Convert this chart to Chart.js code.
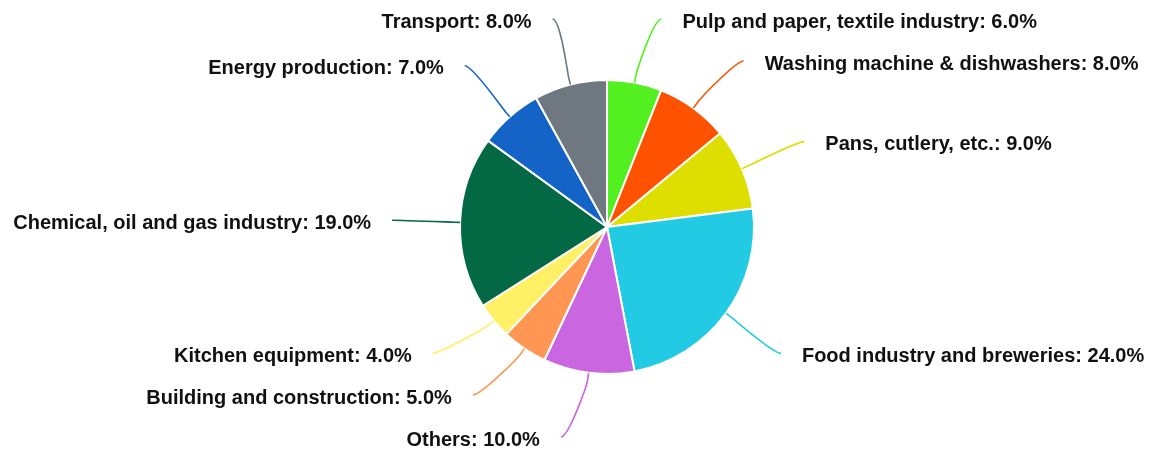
<!DOCTYPE html>
<html>
<head>
<meta charset="utf-8">
<script src="https://cdn.jsdelivr.net/npm/chart.js@4/dist/chart.umd.min.js"></script>
<style>
  html, body { margin: 0; padding: 0; background: #ffffff; }
  #wrap { width: 1153px; height: 452px; }
</style>
</head>
<body>
<div id="wrap"><canvas id="pie" width="1153" height="452"></canvas></div>
<script>
// Sectors in clockwise order from 12 o'clock
const categories = [
  'Pulp and paper, textile industry',
  'Washing machine & dishwashers',
  'Pans, cutlery, etc.',
  'Food industry and breweries',
  'Others',
  'Building and construction',
  'Kitchen equipment',
  'Chemical, oil and gas industry',
  'Energy production',
  'Transport'
];
const shares = [6, 8, 9, 24, 10, 5, 4, 19, 7, 8];
const sliceColors = [
  '#52f020', '#ff5200', '#dede00', '#22cbe3', '#c966e0',
  '#ff9652', '#fff066', '#036945', '#1464c8', '#6f7881'
];

// Outside labels with curved connectors, spread vertically so they never overlap
const outsideLabels = {
  id: 'outsideLabels',
  afterDatasetsDraw(chart) {
    const ctx = chart.ctx;
    const meta = chart.getDatasetMeta(0);
    const area = chart.chartArea;
    const labelGap = 68, minSpacing = 42;
    const topLimit = area.top - 60, bottomLimit = area.bottom + 62;
    const items = meta.data.map((arc, i) => {
      const p = arc.getProps(['x', 'y', 'startAngle', 'endAngle', 'outerRadius'], true);
      const mid = (p.startAngle + p.endAngle) / 2;
      const R = p.outerRadius + labelGap;
      return {
        i, cx: p.x, cy: p.y, r: p.outerRadius, mid, R,
        left: Math.cos(mid) < 0,
        y: p.y + Math.sin(mid) * R
      };
    });
    [true, false].forEach(side => {
      const group = items.filter(it => it.left === side).sort((a, b) => a.y - b.y);
      for (let k = 0; k < group.length; k++) {
        const prev = k > 0 ? group[k - 1].y + minSpacing : topLimit;
        group[k].y = Math.max(group[k].y, prev, topLimit);
      }
      for (let k = group.length - 1; k >= 0; k--) {
        const next = k < group.length - 1 ? group[k + 1].y - minSpacing : bottomLimit;
        group[k].y = Math.min(group[k].y, next, bottomLimit);
      }
    });
    ctx.save();
    items.forEach(it => {
      const dir = it.left ? -1 : 1;
      const dy = it.y - it.cy;
      const lx = it.cx + dir * Math.sqrt(Math.max(0, it.R * it.R - dy * dy));
      const ly = it.y;
      const tx = it.cx + Math.cos(it.mid) * it.r;
      const ty = it.cy + Math.sin(it.mid) * it.r;
      const bx = it.cx + Math.cos(it.mid) * (it.r + 6);
      const by = it.cy + Math.sin(it.mid) * (it.r + 6);
      ctx.beginPath();
      ctx.moveTo(lx, ly);
      ctx.bezierCurveTo(lx - dir * 8, ly, 2 * bx - tx, 2 * by - ty, bx, by);
      ctx.lineTo(tx, ty);
      ctx.strokeStyle = sliceColors[it.i];
      ctx.lineWidth = 1.6;
      ctx.stroke();
      ctx.fillStyle = '#111111';
      ctx.font = 'bold 20px "Liberation Sans", Arial, sans-serif';
      ctx.textBaseline = 'middle';
      ctx.textAlign = it.left ? 'right' : 'left';
      const text = categories[it.i] + ': ' + shares[it.i].toFixed(1) + '%';
      ctx.fillText(text, lx + dir * 21, ly + 3);
    });
    ctx.restore();
  }
};

new Chart(document.getElementById('pie'), {
  type: 'pie',
  data: {
    labels: categories,
    datasets: [{
      data: shares,
      backgroundColor: sliceColors,
      borderColor: '#ffffff',
      borderWidth: 2
    }]
  },
  options: {
    responsive: false,
    devicePixelRatio: 1,
    animation: false,
    layout: { padding: { left: 459, right: 398, top: 79, bottom: 77 } },
    plugins: {
      legend: { display: false },
      tooltip: { enabled: false }
    }
  },
  plugins: [outsideLabels]
});
</script>
</body>
</html>
